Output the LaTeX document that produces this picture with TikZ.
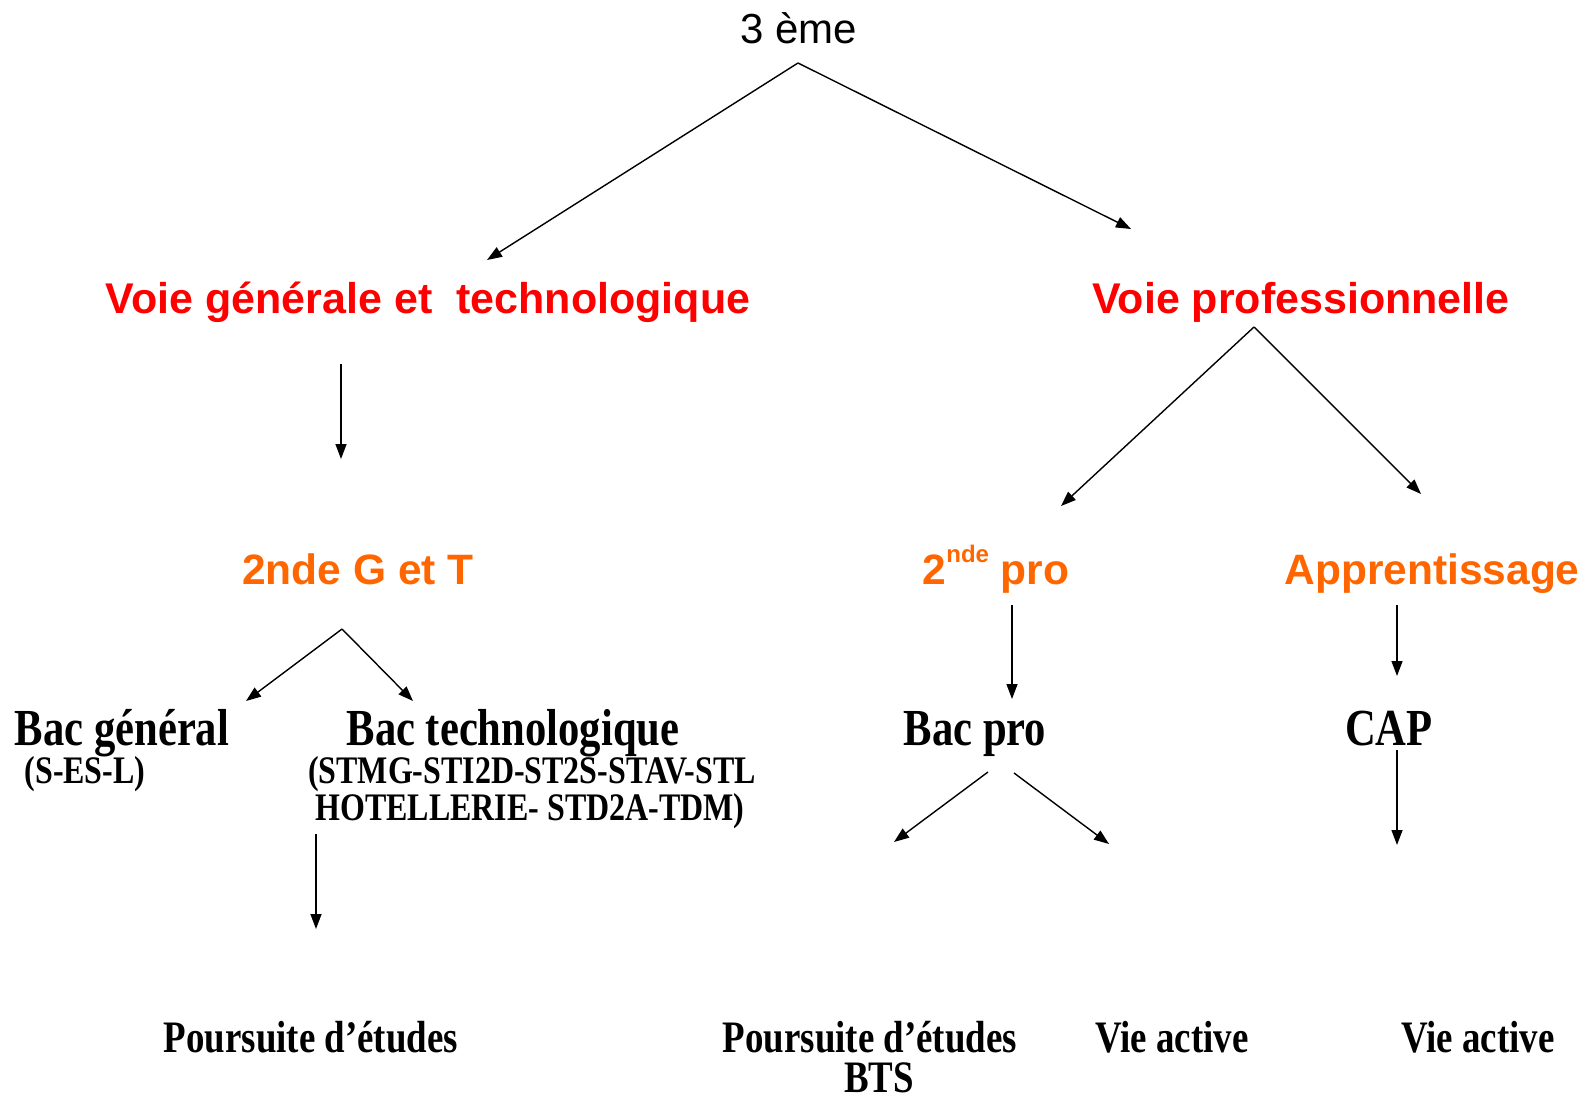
\documentclass[tikz,border=0pt]{standalone}
\usepackage{fontspec}
\setmainfont{Liberation Sans}
\newfontfamily\serb[FakeStretch=0.82]{Liberation Serif}
\usetikzlibrary{arrows.meta}
\definecolor{vred}{HTML}{FF0000}
\definecolor{vorange}{HTML}{FF6600}
\tikzset{
  conn/.style={line width=1.4pt, -{Triangle[length=15pt,width=11pt]}},
  lbl/.style={anchor=base, inner sep=0pt, outer sep=0pt},
  toptxt/.style={lbl, font=\fontsize{42}{46}\selectfont},
  redtxt/.style={lbl, text=vred, font=\fontsize{43}{47}\selectfont\bfseries},
  orangetxt/.style={lbl, text=vorange, font=\fontsize{42.5}{46}\selectfont\bfseries},
  bactxt/.style={lbl, font=\serb\fontsize{52}{56}\selectfont\bfseries},
  subtxt/.style={lbl, font=\serb\fontsize{39}{42}\selectfont\bfseries},
  endtxt/.style={lbl, font=\serb\fontsize{45}{50}\selectfont\bfseries},
}
\begin{document}
\begin{tikzpicture}[x=1pt,y=-1pt]
\useasboundingbox (0,0) rectangle (1585,1099);
% texts
\node[toptxt] (troisieme) at (799,44) {3 ème};
\node[redtxt] (voiegt) at (428,313) {Voie générale et\ \ technologique};
\node[redtxt] (voiepro) at (1301,313) {Voie professionnelle};
\node[orangetxt] (secgt) at (358,584) {2nde G et T};
\node[orangetxt] (secpro) at (996,584) {2\raisebox{0.5em}{\fontsize{24}{24}\selectfont nde} pro};
\node[orangetxt] (apprent) at (1432,584) {Apprentissage};
\node[bactxt] (bacgen) at (122,745) {Bac général};
\node[subtxt] (sesl) at (85,783) {(S-ES-L)};
\node[bactxt] (bactech) at (513,745) {Bac technologique};
\node[subtxt] (series1) at (532,783) {(STMG-STI2D-ST2S-STAV-STL};
\node[subtxt] (series2) at (530,820) {HOTELLERIE- STD2A-TDM)};
\node[bactxt] (bacpro) at (975,745) {Bac pro};
\node[bactxt] (cap) at (1389,745) {CAP};
\node[endtxt] (pours1) at (311,1052) {Poursuite d’études};
\node[endtxt] (pours2) at (870,1052) {Poursuite d’études};
\node[endtxt] (bts) at (879,1092) {BTS};
\node[endtxt] (vie1) at (1172,1052) {Vie active};
\node[endtxt] (vie2) at (1478,1052) {Vie active};
% connector end points
\coordinate (a0) at (798,63);
\coordinate (a1) at (487,260);
\coordinate (a2) at (1131,229);
\coordinate (b0) at (341,364);
\coordinate (b1) at (341,459);
\coordinate (c0) at (1254,327);
\coordinate (c1) at (1061,506);
\coordinate (c2) at (1421,494);
\coordinate (d0) at (342,629);
\coordinate (d1) at (246,701);
\coordinate (d2) at (413,701);
\coordinate (e0) at (316,834);
\coordinate (e1) at (316,929);
\coordinate (f0) at (1012,605);
\coordinate (f1) at (1012,699);
\coordinate (g0) at (1397,605);
\coordinate (g1) at (1397,676);
\coordinate (h0) at (988,772);
\coordinate (h1) at (894,842);
\coordinate (i0) at (1014,773);
\coordinate (i1) at (1109,844);
\coordinate (j0) at (1397,750);
\coordinate (j1) at (1397,845);
% connectors
\draw[conn] (a0) -- (a1);
\draw[conn] (a0) -- (a2);
\draw[conn] (b0) -- (b1);
\draw[conn] (c0) -- (c1);
\draw[conn] (c0) -- (c2);
\draw[conn] (d0) -- (d1);
\draw[conn] (d0) -- (d2);
\draw[conn] (e0) -- (e1);
\draw[conn] (f0) -- (f1);
\draw[conn] (g0) -- (g1);
\draw[conn] (h0) -- (h1);
\draw[conn] (i0) -- (i1);
\draw[conn] (j0) -- (j1);
\end{tikzpicture}
\end{document}
